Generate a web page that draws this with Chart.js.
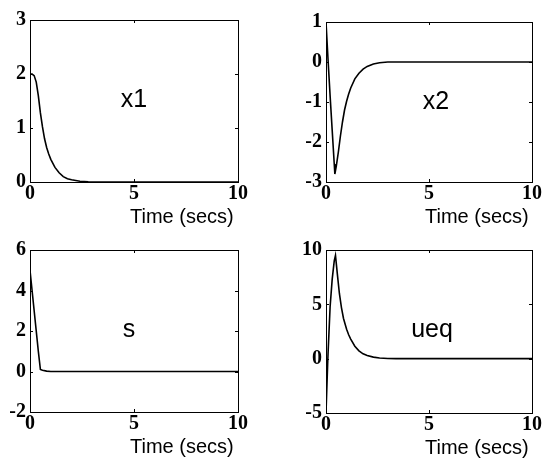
<!DOCTYPE html>
<html><head><meta charset="utf-8">
<script src="https://cdn.jsdelivr.net/npm/chart.js@4"></script>
<style>
html,body{margin:0;padding:0;background:#fff;overflow:hidden;width:543px;height:460px;}
canvas{position:absolute;display:block;}
</style></head><body>
<canvas id="c1"></canvas><canvas id="c2"></canvas><canvas id="c3"></canvas><canvas id="c4"></canvas>
<script>
// ---- data ----
const xTicks = [0, 5, 10];
const xLabel = 'Time (secs)';
const panelTitles = ['x1', 'x2', 's', 'ueq'];

const tX1 = [0, 0.1, 0.2, 0.3, 0.4, 0.5, 0.6, 0.7, 0.8, 0.9, 1.0, 1.2, 1.4, 1.6, 1.8, 2.0, 2.4, 2.8, 3.2, 10];
const vX1 = [2.0, 2.0, 1.97, 1.85, 1.6, 1.28, 1.02, 0.8, 0.64, 0.52, 0.42, 0.27, 0.17, 0.1, 0.06, 0.04, 0.015, 0.005, 0, 0];
const yTicksX1 = [0, 1, 2, 3];

const tX2 = [0, 0.1, 0.2, 0.3, 0.4, 0.43, 0.5, 0.6, 0.7, 0.8, 0.9, 1.0, 1.1, 1.2, 1.4, 1.6, 1.8, 2.0, 2.3, 2.6, 3.0, 10];
const vX2 = [1.0, 0.05, -0.85, -1.7, -2.55, -2.8, -2.6, -2.25, -1.85, -1.5, -1.2, -0.98, -0.8, -0.65, -0.42, -0.28, -0.18, -0.11, -0.05, -0.02, 0, 0];
const yTicksX2 = [-3, -2, -1, 0, 1];

const tS = [0, 0.1, 0.2, 0.3, 0.4, 0.5, 0.6, 0.8, 1.0, 10];
const vS = [5.0, 4.0, 3.0, 2.0, 1.0, 0.1, 0.06, 0.02, 0, 0];
const yTicksS = [-2, 0, 2, 4, 6];

const tU = [0, 0.08, 0.1, 0.2, 0.3, 0.4, 0.46, 0.55, 0.65, 0.75, 0.85, 1.0, 1.1, 1.2, 1.4, 1.6, 1.8, 2.0, 2.3, 2.6, 3.0, 3.4, 10];
const vU = [-5.0, -0.5, 0.5, 4.8, 7.3, 9.0, 9.5, 7.8, 6.0, 4.7, 3.7, 2.7, 2.2, 1.8, 1.15, 0.72, 0.45, 0.29, 0.14, 0.06, 0.02, 0, 0];
const yTicksU = [-5, 0, 5, 10];

// ---- layout (plot boxes in page pixels) ----
const panels = [
  {id:'c1', t:tX1, v:vX1, yt:yTicksX1, title:panelTitles[0], box:{l:30, t:16, r:238, b:182}, tdx:0},
  {id:'c2', t:tX2, v:vX2, yt:yTicksX2, title:panelTitles[1], box:{l:326, t:18, r:532, b:182}, tdx:7},
  {id:'c3', t:tS,  v:vS,  yt:yTicksS,  title:panelTitles[2], box:{l:30, t:246, r:238, b:412}, tdx:-5},
  {id:'c4', t:tU,  v:vU,  yt:yTicksU,  title:panelTitles[3], box:{l:326, t:246, r:532, b:413}, tdx:3}
];
const PADL = 30, PADT = 12, PADR = 14, PADB = 50;
const tickFont = {family:'Liberation Serif', weight:'bold', size:20};

function framePlugin(p) {
  return {
    id: 'frame_' + p.id,
    afterDraw(chart) {
      const ctx = chart.ctx, a = chart.chartArea;
      const xs = chart.scales.x, ys = chart.scales.y;
      ctx.save();
      ctx.strokeStyle = '#000';
      ctx.lineWidth = 1;
      ctx.strokeRect(Math.round(a.left) + 0.5, Math.round(a.top) + 0.5, Math.round(a.right - a.left), Math.round(a.bottom - a.top));
      // inward ticks
      ctx.beginPath();
      const L = 3;
      xTicks.forEach(v => {
        const x = Math.round(xs.getPixelForValue(v)) + 0.5;
        ctx.moveTo(x, a.top); ctx.lineTo(x, a.top + L);
        ctx.moveTo(x, a.bottom); ctx.lineTo(x, a.bottom - L);
      });
      p.yt.forEach(v => {
        const y = Math.round(ys.getPixelForValue(v)) + 0.5;
        ctx.moveTo(a.left, y); ctx.lineTo(a.left + L, y);
        ctx.moveTo(a.right, y); ctx.lineTo(a.right - L, y);
      });
      ctx.stroke();
      // panel name
      const cx = (a.left + a.right) / 2;
      ctx.fillStyle = '#000';
      ctx.font = '25px "Liberation Sans", Arial, sans-serif';
      ctx.textAlign = 'center';
      ctx.textBaseline = 'alphabetic';
      ctx.fillText(p.title, cx + p.tdx, a.top + 87);
      // x label
      ctx.font = '20px "Liberation Sans", Arial, sans-serif';
      ctx.textAlign = 'left';
      ctx.fillText(xLabel, cx - 4, a.bottom + 41);
      ctx.restore();
    }
  };
}

panels.forEach(p => {
  const c = document.getElementById(p.id);
  const w = (p.box.r - p.box.l) + PADL + PADR;
  const h = (p.box.b - p.box.t) + PADT + PADB;
  c.width = w; c.height = h;
  c.style.width = w + 'px'; c.style.height = h + 'px';
  c.style.left = (p.box.l - PADL) + 'px';
  c.style.top = (p.box.t - PADT) + 'px';
  new Chart(c, {
    type: 'line',
    data: {
      datasets: [{
        data: p.t.map((x, i) => ({x: x, y: p.v[i]})),
        borderColor: '#000', borderWidth: 1.6, pointRadius: 0, tension: 0, fill: false
      }]
    },
    options: {
      responsive: false, animation: false, devicePixelRatio: 1,
      layout: {padding: {left: 0, top: PADT, right: PADR, bottom: 0}},
      plugins: {legend: {display: false}, tooltip: {enabled: false}},
      scales: {
        x: {
          type: 'linear', min: xTicks[0], max: xTicks[xTicks.length - 1],
          afterBuildTicks: s => { s.ticks = xTicks.map(v => ({value: v})); },
          afterFit: s => { s.height = PADB; },
          grid: {display: false, drawTicks: false},
          border: {display: false},
          ticks: {padding: 0, font: tickFont, color: '#000', maxRotation: 0, autoSkip: false}
        },
        y: {
          type: 'linear', min: p.yt[0], max: p.yt[p.yt.length - 1],
          afterBuildTicks: s => { s.ticks = p.yt.map(v => ({value: v})); },
          afterFit: s => { s.width = PADL; },
          grid: {display: false, drawTicks: false},
          border: {display: false},
          ticks: {padding: 4, font: tickFont, color: '#000', autoSkip: false}
        }
      }
    },
    plugins: [framePlugin(p)]
  });
});
</script>
</body></html>
